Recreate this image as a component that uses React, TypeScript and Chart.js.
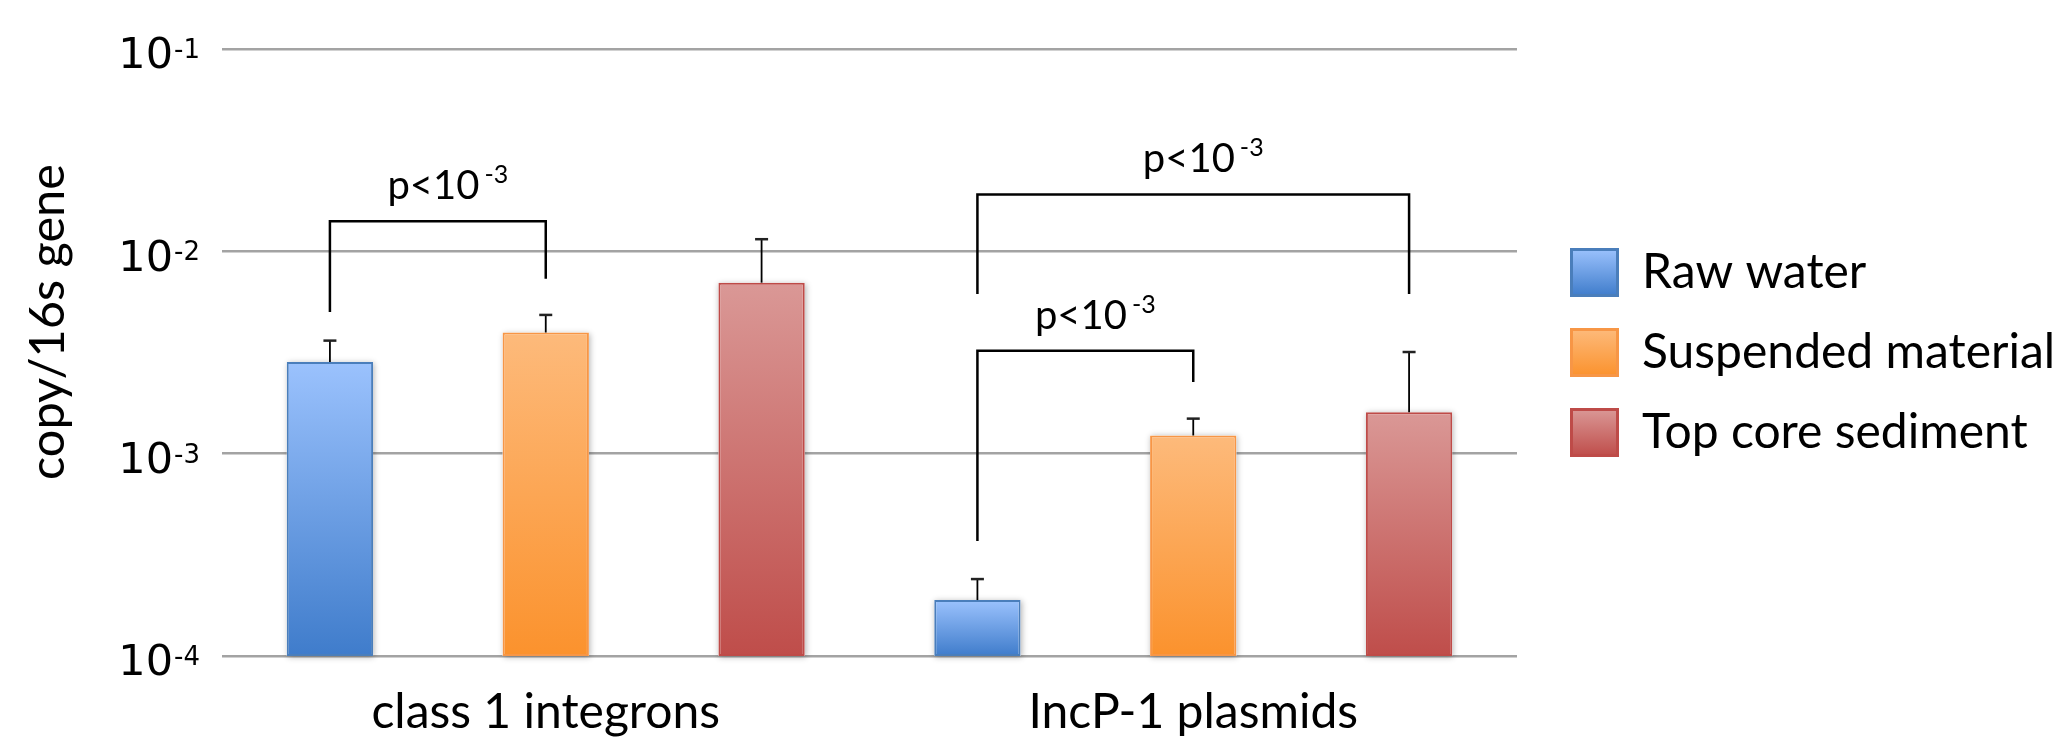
import React, { useEffect, useRef } from 'react';
import { Chart, registerables } from 'chart.js';

Chart.register(...registerables);

// ---- data ----
const categories = ['class 1 integrons', 'IncP-1 plasmids'];
const seriesNames = ['Raw water', 'Suspended material', 'Top core sediment'];
const rawWater = [0.00284, 0.000189];
const suspendedMaterial = [0.00397, 0.00123];
const topCoreSediment = [0.0070, 0.0016];
const rawWaterErr = [0.00078, 0.000051];
const suspendedMaterialErr = [0.00088, 0.00026];
const topCoreSedimentErr = [0.00448, 0.00158];
const yTicks = [1e-4, 1e-3, 1e-2, 1e-1];
const yTickBase = '10';
const yTitle = 'copy/16s gene';
const pLabel = 'p<10';
const pSup = '-3';
// significance brackets: category, from/to series, top value, leg end values
const bracketCategory = [0, 1, 1];
const bracketFrom = [0, 0, 0];
const bracketTo = [1, 2, 1];
const bracketTop = [0.0141, 0.0191, 0.00323];
const bracketFromEnd = [0.00501, 0.00615, 0.00037];
const bracketToEnd = [0.00731, 0.00615, 0.00226];

// ---- styles ----
const gradTop = ['#9BC2FD', '#FDBA7B', '#DA9896'];
const gradBottom = ['#3F7CCB', '#FB922D', '#BF4D4A'];
const borders = ['#4A7EBB', '#F79646', '#BE4B48'];

const LEG_FONT = 48;
const LEG_BOX = 47;
const LEG_PAD = 32;
const LEG_W = 531;
const Y_AXIS_W = 222;
const TICK_PAD = 49;

export default function App() {
  const ref = useRef<HTMLCanvasElement>(null);

  useEffect(() => {
    document.body.style.margin = '0';
    const canvas = ref.current!;
    const m = document.createElement('canvas').getContext('2d')!;
    m.font = `${LEG_FONT}px Lato`;
    const maxText = Math.max(...seriesNames.map((s) => m.measureText(s).width));
    const natural = 10 + LEG_PAD + LEG_BOX + LEG_FONT / 2 + maxText;
    const padRight = Math.max(0, LEG_W - natural);

    const makeBg = (i: number) => (ctx: any) => {
      const chart = ctx.chart;
      if (ctx.type !== 'data' || !chart.chartArea || !chart.scales.y) return gradBottom[i];
      const ys = chart.scales.y;
      const t = ys.getPixelForValue(ctx.raw);
      const b = ys.getPixelForValue(ys.min);
      if (!isFinite(t) || !isFinite(b) || t === b) return gradBottom[i];
      const g = chart.ctx.createLinearGradient(0, t, 0, b);
      g.addColorStop(0, gradTop[i]);
      g.addColorStop(1, gradBottom[i]);
      return g;
    };

    const values = [rawWater, suspendedMaterial, topCoreSediment];
    const errs = [rawWaterErr, suspendedMaterialErr, topCoreSedimentErr];

    const shadowPlugin = {
      id: 'barShadow',
      beforeDatasetsDraw(chart: any) {
        const ctx = chart.ctx;
        chart.data.datasets.forEach((_: any, di: number) => {
          const meta = chart.getDatasetMeta(di);
          meta.data.forEach((bar: any) => {
            ctx.save();
            ctx.shadowColor = 'rgba(0,0,0,0.3)';
            ctx.shadowBlur = 6;
            ctx.shadowOffsetX = 1;
            ctx.shadowOffsetY = 1;
            ctx.fillStyle = '#ffffff';
            ctx.fillRect(bar.x - bar.width / 2, bar.y, bar.width, bar.base - bar.y);
            ctx.restore();
          });
        });
      },
    };

    const errorPlugin = {
      id: 'errorBars',
      afterDatasetsDraw(chart: any) {
        const ctx = chart.ctx;
        const ys = chart.scales.y;
        chart.data.datasets.forEach((_: any, di: number) => {
          const meta = chart.getDatasetMeta(di);
          meta.data.forEach((bar: any, j: number) => {
            const v = values[di][j];
            const yt = ys.getPixelForValue(v + errs[di][j]);
            ctx.save();
            ctx.strokeStyle = '#000';
            ctx.lineWidth = 1.8;
            ctx.beginPath();
            ctx.moveTo(bar.x, bar.y);
            ctx.lineTo(bar.x, yt);
            ctx.stroke();
            ctx.lineWidth = 2.5;
            ctx.strokeStyle = '#222';
            ctx.beginPath();
            ctx.moveTo(bar.x - 6.5, yt);
            ctx.lineTo(bar.x + 6.5, yt);
            ctx.stroke();
            ctx.restore();
          });
        });
      },
    };

    const bracketPlugin = {
      id: 'brackets',
      afterDatasetsDraw(chart: any) {
        const ctx = chart.ctx;
        const ys = chart.scales.y;
        bracketCategory.forEach((cat, k) => {
          const x1 = chart.getDatasetMeta(bracketFrom[k]).data[cat].x;
          const x2 = chart.getDatasetMeta(bracketTo[k]).data[cat].x;
          const yTop = ys.getPixelForValue(bracketTop[k]);
          const y1 = ys.getPixelForValue(bracketFromEnd[k]);
          const y2 = ys.getPixelForValue(bracketToEnd[k]);
          ctx.save();
          ctx.strokeStyle = '#000';
          ctx.lineWidth = 2.5;
          ctx.lineJoin = 'miter';
          ctx.beginPath();
          ctx.moveTo(x1, y1);
          ctx.lineTo(x1, yTop);
          ctx.lineTo(x2, yTop);
          ctx.lineTo(x2, y2);
          ctx.stroke();
          ctx.fillStyle = '#000';
          ctx.textBaseline = 'alphabetic';
          ctx.textAlign = 'left';
          ctx.font = '40px Lato';
          const w1 = ctx.measureText(pLabel).width;
          ctx.font = '25px Lato';
          const w2 = ctx.measureText(pSup).width;
          const gap = 5;
          const total = w1 + gap + w2;
          const sx = (x1 + x2) / 2 + 10 - total / 2;
          const by = yTop - 22;
          ctx.font = '40px Lato';
          ctx.fillText(pLabel, sx, by);
          ctx.font = '25px Lato';
          ctx.fillText(pSup, sx + w1 + gap, by - 16);
          ctx.restore();
        });
      },
    };

    const tickExpPlugin = {
      id: 'tickExponents',
      afterDraw(chart: any) {
        const ctx = chart.ctx;
        const ys = chart.scales.y;
        ctx.save();
        ctx.font = '26px "DejaVu Sans"';
        ctx.fillStyle = '#000';
        ctx.textAlign = 'left';
        ctx.textBaseline = 'alphabetic';
        ys.ticks.forEach((t: any) => {
          const y = ys.getPixelForValue(t.value);
          const e = String(Math.round(Math.log10(t.value)));
          ctx.fillText(e, ys.right - TICK_PAD + 1, y + 9);
        });
        ctx.restore();
      },
    };

    const titlePlugin = {
      id: 'yTitle',
      afterDraw(chart: any) {
        const ctx = chart.ctx;
        ctx.save();
        ctx.font = '48px Lato';
        const w = ctx.measureText(yTitle).width;
        ctx.translate(49, 322);
        ctx.rotate(-Math.PI / 2);
        ctx.scale(316 / w, 1.0);
        ctx.fillStyle = '#000';
        ctx.textAlign = 'center';
        ctx.textBaseline = 'middle';
        ctx.fillText(yTitle, 0, 0);
        ctx.restore();
      },
    };

    const legendBoxPlugin = {
      id: 'legendBoxes',
      afterDraw(chart: any) {
        const legend = chart.legend;
        if (!legend || !legend.legendHitBoxes) return;
        const ctx = chart.ctx;
        legend.legendHitBoxes.forEach((hb: any, i: number) => {
          const x = hb.left;
          const y = hb.top + Math.max((LEG_FONT - LEG_BOX) / 2, 0);
          ctx.save();
          const g = ctx.createLinearGradient(0, y, 0, y + LEG_BOX);
          g.addColorStop(0, gradTop[i]);
          g.addColorStop(1, gradBottom[i]);
          ctx.fillStyle = g;
          ctx.fillRect(x, y, LEG_BOX, LEG_BOX);
          ctx.strokeStyle = borders[i];
          ctx.lineWidth = 2;
          ctx.strokeRect(x + 1, y + 1, LEG_BOX - 2, LEG_BOX - 2);
          ctx.restore();
        });
      },
    };

    const chart = new Chart(canvas, {
      type: 'bar',
      data: {
        labels: categories,
        datasets: seriesNames.map((name, i) => ({
          label: name,
          data: values[i],
          backgroundColor: makeBg(i),
          borderColor: borders[i],
          borderWidth: 2,
          borderSkipped: false,
          categoryPercentage: 1.0,
          barPercentage: 0.4,
        })),
      },
      options: {
        responsive: false,
        animation: false,
        devicePixelRatio: 1,
        layout: { padding: { top: 49, left: 0, right: padRight, bottom: 0 } },
        scales: {
          x: {
            grid: { display: false },
            border: { display: false },
            ticks: { font: { family: 'Lato', size: 48 }, color: '#000', padding: 20 },
            afterFit: (s: any) => { s.height = 88; },
          },
          y: {
            type: 'logarithmic',
            min: yTicks[0],
            max: yTicks[yTicks.length - 1],
            afterBuildTicks: (s: any) => { s.ticks = yTicks.map((v) => ({ value: v })); },
            afterFit: (s: any) => {
              s.width = Y_AXIS_W;
              s.paddingTop = 0;
              s.paddingBottom = 0;
            },
            ticks: {
              callback: () => yTickBase,
              font: { family: 'DejaVu Sans', size: 43 },
              color: '#000',
              padding: TICK_PAD,
              labelOffset: 8,
            },
            grid: { color: '#a3a3a3', lineWidth: 2.5, drawTicks: false },
            border: { display: false },
          },
          spacer: {
            type: 'linear',
            position: 'right',
            display: true,
            grid: { display: false },
            border: { display: false },
            ticks: { display: false },
            afterFit: (s: any) => { s.width = 22; s.paddingTop = 0; s.paddingBottom = 0; },
          },
        },
        plugins: {
          tooltip: { enabled: false },
          title: { display: false },
          legend: {
            position: 'right',
            fullSize: false,
            align: 'center',
            maxWidth: LEG_W,
            labels: {
              boxWidth: LEG_BOX,
              boxHeight: LEG_BOX,
              padding: LEG_PAD,
              color: '#000',
              font: { family: 'Lato', size: LEG_FONT },
              generateLabels: () =>
                seriesNames.map((n, i) => ({
                  text: n,
                  fillStyle: gradBottom[i],
                  strokeStyle: borders[i],
                  lineWidth: 2,
                  datasetIndex: i,
                  hidden: false,
                })),
            },
          },
        },
      } as any,
      plugins: [shadowPlugin, errorPlugin, bracketPlugin, tickExpPlugin, titlePlugin, legendBoxPlugin],
    });
    return () => chart.destroy();
  }, []);

  return (
    <canvas
      ref={ref}
      width={2070}
      height={744}
      style={{ display: 'block', width: '2070px', height: '744px' }}
    />
  );
}
